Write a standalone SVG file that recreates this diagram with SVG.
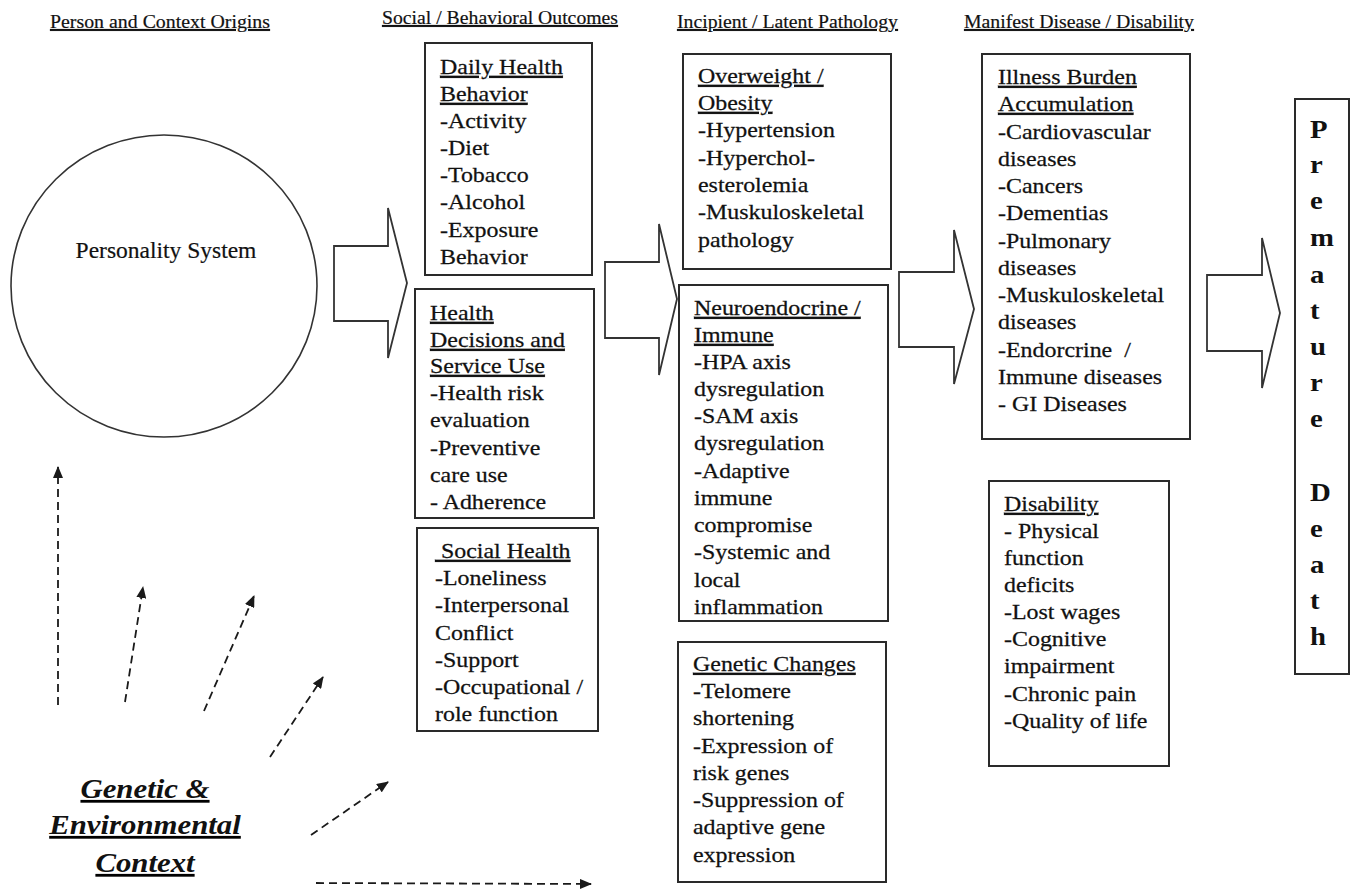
<svg xmlns="http://www.w3.org/2000/svg" width="1352" height="890" viewBox="0 0 1352 890">
<style>
text{font-family:"Liberation Serif","Times New Roman",serif;fill:#111}
.hdr{font-size:19.5px;text-decoration:underline;stroke:#111;stroke-width:0.2}
.body{font-size:21px}
.body text{stroke:#111;stroke-width:0.25}
.ttl{text-decoration:underline}
.box{fill:#fff;stroke:#2a2a2a;stroke-width:2}
.blk{fill:#fff;stroke:#333;stroke-width:1.8;stroke-linejoin:miter}
.dash{fill:none;stroke:#1a1a1a;stroke-width:1.8;stroke-dasharray:8 5}
.pd{font-size:25px;font-weight:bold}
.gen{font-size:28px;font-weight:bold;font-style:italic;text-decoration:underline}
</style>
<defs>
<marker id="ah" markerWidth="12" markerHeight="10" refX="11" refY="5" orient="auto" markerUnits="userSpaceOnUse">
<path d="M0,0 L12,5 L0,10 z" fill="#1a1a1a"/>
</marker>
</defs>
<rect width="1352" height="890" fill="#fff"/>

<g id="headers">
<text class="hdr" x="50" y="28" textLength="220" lengthAdjust="spacingAndGlyphs">Person and Context Origins</text>
<text class="hdr" x="382" y="24" textLength="236" lengthAdjust="spacingAndGlyphs">Social / Behavioral Outcomes</text>
<text class="hdr" x="677" y="28" textLength="221" lengthAdjust="spacingAndGlyphs">Incipient / Latent Pathology</text>
<text class="hdr" x="964" y="28" textLength="230" lengthAdjust="spacingAndGlyphs">Manifest Disease / Disability</text>
</g>

<g id="connectors">
<polygon class="blk" points="334,246 388,246 388,208 407,283 388,358 388,321 334,321"/>
<polygon class="blk" points="605,262 659,262 659,224 677,299 659,375 659,338 605,338"/>
<polygon class="blk" points="899,272 954,272 954,230 974,309 954,384 954,347 899,347"/>
<polygon class="blk" points="1207,275 1262,275 1262,238 1280,313 1262,388 1262,351 1207,351"/>
<line class="dash" x1="58" y1="705" x2="58" y2="467" marker-end="url(#ah)"/>
<line class="dash" x1="125" y1="702" x2="143" y2="587" marker-end="url(#ah)"/>
<line class="dash" x1="204" y1="711" x2="254" y2="596" marker-end="url(#ah)"/>
<line class="dash" x1="270" y1="757" x2="323" y2="677" marker-end="url(#ah)"/>
<line class="dash" x1="311" y1="835" x2="388" y2="782" marker-end="url(#ah)"/>
<line class="dash" x1="316" y1="883" x2="591" y2="884" marker-end="url(#ah)"/>
</g>

<g id="personality">
<ellipse cx="164" cy="286" rx="153" ry="151" fill="#fff" stroke="#333" stroke-width="1.6"/>
<text x="166" y="258" font-size="23.5" text-anchor="middle" stroke="#111" stroke-width="0.2">Personality System</text>
</g>

<g id="daily-health">
<rect class="box" x="425" y="43" width="167" height="232"/>
<g transform="translate(440,0) scale(1.14,1)" class="body">
<text class="ttl" x="0" y="74">Daily Health</text>
<text class="ttl" x="0" y="101">Behavior</text>
<text x="0" y="128">-Activity</text>
<text x="0" y="155">-Diet</text>
<text x="0" y="182">-Tobacco</text>
<text x="0" y="209">-Alcohol</text>
<text x="0" y="237">-Exposure</text>
<text x="0" y="264">Behavior</text>
</g>
</g>

<g id="health-decisions">
<rect class="box" x="415" y="289" width="179" height="229"/>
<g transform="translate(430,0) scale(1.14,1)" class="body">
<text class="ttl" x="0" y="320">Health</text>
<text class="ttl" x="0" y="347">Decisions and</text>
<text class="ttl" x="0" y="373">Service Use</text>
<text x="0" y="400">-Health risk</text>
<text x="0" y="427">evaluation</text>
<text x="0" y="455">-Preventive</text>
<text x="0" y="482">care use</text>
<text x="0" y="509">- Adherence</text>
</g>
</g>

<g id="social-health">
<rect class="box" x="417" y="528" width="181" height="203"/>
<g transform="translate(435,0) scale(1.14,1)" class="body">
<text class="ttl" x="0" y="558" xml:space="preserve"> Social Health</text>
<text x="0" y="585">-Loneliness</text>
<text x="0" y="612">-Interpersonal</text>
<text x="0" y="640">Conflict</text>
<text x="0" y="667">-Support</text>
<text x="0" y="694">-Occupational /</text>
<text x="0" y="721">role function</text>
</g>
</g>

<g id="overweight">
<rect class="box" x="683" y="54" width="208" height="215"/>
<g transform="translate(698,0) scale(1.14,1)" class="body">
<text class="ttl" x="0" y="83">Overweight /</text>
<text class="ttl" x="0" y="110">Obesity</text>
<text x="0" y="137">-Hypertension</text>
<text x="0" y="165">-Hyperchol-</text>
<text x="0" y="192">esterolemia</text>
<text x="0" y="219">-Muskuloskeletal</text>
<text x="0" y="247">pathology</text>
</g>
</g>

<g id="neuroendocrine">
<rect class="box" x="679" y="285" width="209" height="336"/>
<g transform="translate(694,0) scale(1.14,1)" class="body">
<text class="ttl" x="0" y="315">Neuroendocrine /</text>
<text class="ttl" x="0" y="342">Immune</text>
<text x="0" y="369">-HPA axis</text>
<text x="0" y="396">dysregulation</text>
<text x="0" y="423">-SAM axis</text>
<text x="0" y="450">dysregulation</text>
<text x="0" y="478">-Adaptive</text>
<text x="0" y="505">immune</text>
<text x="0" y="532">compromise</text>
<text x="0" y="559">-Systemic and</text>
<text x="0" y="587">local</text>
<text x="0" y="614">inflammation</text>
</g>
</g>

<g id="genetic-changes">
<rect class="box" x="678" y="642" width="208" height="240"/>
<g transform="translate(693,0) scale(1.14,1)" class="body">
<text class="ttl" x="0" y="671">Genetic Changes</text>
<text x="0" y="698">-Telomere</text>
<text x="0" y="725">shortening</text>
<text x="0" y="753">-Expression of</text>
<text x="0" y="780">risk genes</text>
<text x="0" y="807">-Suppression of</text>
<text x="0" y="834">adaptive gene</text>
<text x="0" y="862">expression</text>
</g>
</g>

<g id="illness-burden">
<rect class="box" x="982" y="54" width="208" height="385"/>
<g transform="translate(998,0) scale(1.14,1)" class="body">
<text class="ttl" x="0" y="84">Illness Burden</text>
<text class="ttl" x="0" y="111">Accumulation</text>
<text x="0" y="139">-Cardiovascular</text>
<text x="0" y="166">diseases</text>
<text x="0" y="193">-Cancers</text>
<text x="0" y="220">-Dementias</text>
<text x="0" y="248">-Pulmonary</text>
<text x="0" y="275">diseases</text>
<text x="0" y="302">-Muskuloskeletal</text>
<text x="0" y="329">diseases</text>
<text x="0" y="357" xml:space="preserve">-Endorcrine  /</text>
<text x="0" y="384">Immune diseases</text>
<text x="0" y="411">- GI Diseases</text>
</g>
</g>

<g id="disability">
<rect class="box" x="989" y="481" width="180" height="285"/>
<g transform="translate(1004,0) scale(1.14,1)" class="body">
<text class="ttl" x="0" y="511">Disability</text>
<text x="0" y="538">- Physical</text>
<text x="0" y="565">function</text>
<text x="0" y="592">deficits</text>
<text x="0" y="619">-Lost wages</text>
<text x="0" y="646">-Cognitive</text>
<text x="0" y="673">impairment</text>
<text x="0" y="701">-Chronic pain</text>
<text x="0" y="728">-Quality of life</text>
</g>
</g>

<g id="premature-death">
<rect class="box" x="1295" y="99" width="54" height="575"/>
<g class="pd" transform="translate(1310,0) scale(1.15,1)">
<text x="0" y="138">P</text>
<text x="0" y="173">r</text>
<text x="0" y="209">e</text>
<text x="0" y="246">m</text>
<text x="0" y="283">a</text>
<text x="0" y="319">t</text>
<text x="0" y="355">u</text>
<text x="0" y="391">r</text>
<text x="0" y="427">e</text>
<text x="0" y="501">D</text>
<text x="0" y="537">e</text>
<text x="0" y="573">a</text>
<text x="0" y="609">t</text>
<text x="0" y="645">h</text>
</g>
</g>

<g id="genetic-environmental">
<g transform="translate(145,0) scale(1.1,1)" class="gen">
<text x="0" y="798" text-anchor="middle">Genetic &amp;</text>
<text x="0" y="834" text-anchor="middle">Environmental</text>
<text x="0" y="872" text-anchor="middle">Context</text>
</g>
</g>
</svg>
